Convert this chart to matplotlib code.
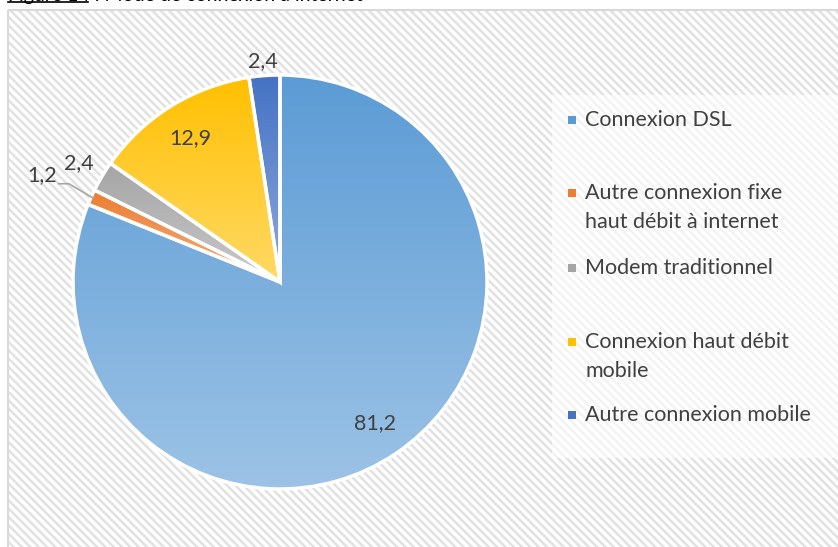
import matplotlib.pyplot as plt
import numpy as np
from matplotlib.patches import Rectangle
from matplotlib.colors import LinearSegmentedColormap, to_rgb

categories = [
    "Connexion DSL",
    "Autre connexion fixe\nhaut débit à internet",
    "Modem traditionnel",
    "Connexion haut débit\nmobile",
    "Autre connexion mobile",
]
values = [81.2, 1.2, 2.4, 12.9, 2.4]
colors = ["#5B9BD5", "#ED7D31", "#A5A5A5", "#FFC000", "#4472C4"]

# layout (pixels)
W, H = 838, 547
CX, CY, R = 280, 282, 207
label_dist = [0.82, 1.26, 1.13, 0.82, 1.07]
legend_y = [120, 193, 268, 342, 415]
text_color = "#404040"
plt.rcParams["font.family"] = ["Lato", "DejaVu Sans"]
plt.rcParams["hatch.linewidth"] = 1.8

fig = plt.figure(figsize=(W / 100, H / 100), dpi=100)

# background in pixel coordinates
bg = fig.add_axes([0, 0, 1, 1])
bg.set_xlim(0, W)
bg.set_ylim(H, 0)
bg.axis("off")
bg.add_patch(Rectangle((8, 10), W, H, facecolor="white", edgecolor="#E2E2E2",
                       hatch="\\\\\\\\", lw=0))
bg.add_patch(Rectangle((8, 10), W, H, facecolor="none", edgecolor="#D9D9D9", lw=1.5))
bg.add_patch(Rectangle((552, 95), W - 552, 363, facecolor="white", alpha=0.6, lw=0))

# title, cut off by the top edge as in the source image
fig.text(8 / W, 1 - 1 / H, "Figure 14 : Mode de connexion à internet", fontsize=14,
         va="baseline", color="black")
bg.plot([8, 88], [1.5, 1.5], color="black", lw=1.2)

# pie
L = 1.3
side = 2 * R * L
ax = fig.add_axes([(CX - side / 2) / W, (H - CY - side / 2) / H, side / W, side / H])
wedges, _ = ax.pie(values, startangle=90, counterclock=False, colors=colors,
                   wedgeprops=dict(edgecolor="white", linewidth=2.5))

grad = np.linspace(0, 1, 256)[:, None]
for w, c in zip(wedges, colors):
    base = np.array(to_rgb(c))
    light = base + (1 - base) * 0.4
    cmap = LinearSegmentedColormap.from_list("g", [base, light])
    bb = w.get_path().get_extents()
    im = ax.imshow(grad, extent=[bb.x0, bb.x1, bb.y0, bb.y1], origin="upper",
                   cmap=cmap, aspect="auto", zorder=1)
    im.set_clip_path(w)
    w.set_facecolor("none")
    w.set_zorder(2)

for w, v, d in zip(wedges, values, label_dist):
    th = np.deg2rad((w.theta1 + w.theta2) / 2)
    ax.text(d * np.cos(th), d * np.sin(th), f"{v:.1f}".replace(".", ","),
            ha="center", va="center", fontsize=15.5, color=text_color, zorder=3)

# leader line for the 1,2 slice
w = wedges[1]
th = np.deg2rad((w.theta1 + w.theta2) / 2)
ex, ey = np.cos(th), np.sin(th)
ax.plot([-1.07, -1.02, ex * 0.99], [ey + 0.065, ey + 0.065, ey * 0.99],
        color="#A6A6A6", lw=1.2, zorder=3)

ax.set_xlim(-L, L)
ax.set_ylim(-L, L)
ax.axis("off")

# legend
for cat, c, y in zip(categories, colors, legend_y):
    bg.add_patch(Rectangle((568, y - 4), 8, 8, facecolor=c, lw=0))
    for i, line in enumerate(cat.split("\n")):
        bg.text(585, y + i * 29, line, fontsize=15.5, color=text_color,
                ha="left", va="center")

fig.savefig("out.png", dpi=100)
